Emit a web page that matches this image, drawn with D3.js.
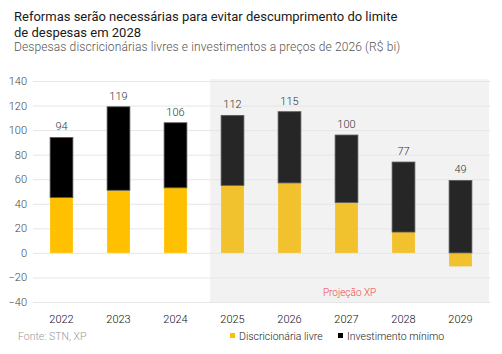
<!DOCTYPE html>
<style>
body {
  margin: 0;
  font-family: Roboto, sans-serif;
  background: #fff;
}
.axis .domain { display: none; }
</style>
<svg width="502" height="354"></svg>
<script src="https://cdn.jsdelivr.net/npm/d3@7"></script>
<script>
var years = ["2022", "2023", "2024", "2025", "2026", "2027", "2028", "2029"];
var discricionaria = [45, 51, 53, 55, 57, 41, 17, -11];
var investimento = [49, 68, 53, 57, 58, 55, 57, 59];
var totalLabels = [94, 119, 106, 112, 115, 100, 77, 49];
var yTicks = [-40, -20, 0, 20, 40, 60, 80, 100, 120, 140];
var projStart = "2025";

var svg = d3.select("svg");

// scales
var x = d3.scaleBand()
    .domain(years)
    .range([33, 489])
    .paddingInner(0.6)
    .paddingOuter(0.3);

var y = d3.scaleLinear()
    .domain([-40, 140])
    .range([302, 81]);

// projection shading
svg.append("rect")
    .attr("x", x(projStart) - 11)
    .attr("y", y(141.5))
    .attr("width", 489 - (x(projStart) - 11))
    .attr("height", y(-40) - y(141.5))
    .attr("fill", "#f2f2f2");

// grid + y axis
svg.append("g")
    .attr("class", "axis")
    .attr("transform", "translate(33,0)")
    .call(d3.axisLeft(y).tickValues(yTicks).tickSize(-457).tickPadding(6))
    .call(function(g) {
      g.selectAll("line").attr("stroke", "#e6e6e6");
      g.selectAll("text").attr("fill", "#444").attr("font-size", 11)
        .attr("font-weight", 300)
        .attr("font-family", "Roboto, sans-serif");
    });

// bars
var data = years.map(function(yr, i) {
  return { year: yr, disc: discricionaria[i], inv: investimento[i], label: totalLabels[i] };
});

function proj(d) { return years.indexOf(d.year) >= years.indexOf(projStart); }

var bars = svg.append("g");

bars.selectAll(".disc")
  .data(data)
  .enter().append("rect")
    .attr("x", function(d) { return x(d.year); })
    .attr("width", x.bandwidth())
    .attr("y", function(d) { return y(Math.max(0, d.disc)); })
    .attr("height", function(d) { return Math.abs(y(d.disc) - y(0)); })
    .attr("fill", function(d) { return proj(d) ? "#f2c12e" : "#ffc000"; });

bars.selectAll(".inv")
  .data(data)
  .enter().append("rect")
    .attr("x", function(d) { return x(d.year); })
    .attr("width", x.bandwidth())
    .attr("y", function(d) { return y(Math.max(0, d.disc) + d.inv); })
    .attr("height", function(d) { return y(Math.max(0, d.disc)) - y(Math.max(0, d.disc) + d.inv); })
    .attr("fill", function(d) { return proj(d) ? "#262626" : "#000"; })
    .attr("stroke", "#5a5a5a")
    .attr("stroke-width", 0.8);

// total labels
bars.selectAll(".lbl")
  .data(data)
  .enter().append("text")
    .attr("x", function(d) { return x(d.year) + x.bandwidth() / 2; })
    .attr("y", function(d) { return y(Math.max(0, d.disc) + d.inv) - 7; })
    .attr("text-anchor", "middle")
    .attr("font-size", 11)
    .attr("font-weight", 300)
    .attr("fill", "#333")
    .text(function(d) { return d.label; });

// x axis
svg.append("g")
    .attr("class", "axis")
    .attr("transform", "translate(0,307)")
    .call(d3.axisBottom(x).tickSize(0).tickPadding(8))
    .call(function(g) {
      g.selectAll("text").attr("fill", "#111").attr("font-size", 11)
        .attr("font-weight", 300)
        .attr("font-family", "Roboto, sans-serif");
    });

// projection note
svg.append("text")
    .attr("x", (x(projStart) - 11 + 489) / 2)
    .attr("y", 296)
    .attr("text-anchor", "middle")
    .attr("font-size", 10)
    .attr("font-weight", 300)
    .attr("fill", "#f0454a")
    .text("Projeção XP");

// titles
svg.append("text")
    .attr("x", 14).attr("y", 21)
    .attr("font-size", 13).attr("fill", "#1a1a1a")
    .text("Reformas serão necessárias para evitar descumprimento do limite");
svg.append("text")
    .attr("x", 14).attr("y", 37)
    .attr("font-size", 13).attr("fill", "#1a1a1a")
    .text("de despesas em 2028");
svg.append("text")
    .attr("x", 14).attr("y", 51)
    .attr("font-size", 12).attr("fill", "#555")
    .attr("font-weight", 300)
    .attr("letter-spacing", 0.12)
    .text("Despesas discricionárias livres e investimentos a preços de 2026 (R$ bi)");

// source
svg.append("text")
    .attr("x", 18).attr("y", 340)
    .attr("font-size", 10.5).attr("fill", "#999")
    .attr("font-weight", 300)
    .text("Fonte: STN, XP");

// legend
var legendKeys = ["Discricionária livre", "Investimento mínimo"];
var legendColors = ["#ffc000", "#000"];
var legendX = [230, 338];
var legend = svg.selectAll(".legend")
  .data(legendKeys)
  .enter().append("g")
    .attr("transform", function(d, i) { return "translate(" + legendX[i] + ",333)"; });
legend.append("rect")
    .attr("width", 5).attr("height", 5)
    .attr("fill", function(d, i) { return legendColors[i]; });
legend.append("text")
    .attr("x", 9).attr("y", 7)
    .attr("font-size", 10.5).attr("fill", "#222")
    .attr("font-weight", 300)
    .text(function(d) { return d; });
</script>
